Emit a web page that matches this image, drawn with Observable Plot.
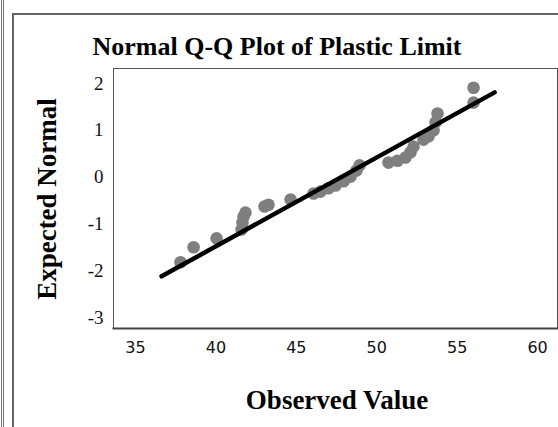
<!DOCTYPE html>
<html><head><meta charset="utf-8">
<script src="https://cdn.jsdelivr.net/npm/d3@7"></script>
<script src="https://cdn.jsdelivr.net/npm/@observablehq/plot@0.6"></script>
<style>
body{margin:0;background:#fff;}
#wrap{position:relative;width:558px;height:427px;overflow:hidden;background:#fff;}
.edge{position:absolute;left:1px;top:0;width:0;height:427px;border-left:3px double #777;}
.box{position:absolute;left:12px;top:13px;width:600px;height:500px;border-left:2px solid #666;border-top:2px solid #666;}
#chart{position:absolute;left:0;top:0;}
.txt{position:absolute;font-family:"Liberation Serif","Times New Roman",serif;font-weight:bold;color:#000;white-space:nowrap;}
.title{left:277px;top:47px;transform:translate(-50%,-50%);font-size:26px;}
.xlab{left:337px;top:400px;transform:translate(-50%,-50%);font-size:27px;}
.ylab{left:47px;top:199px;transform:translate(-50%,-50%) rotate(-90deg);font-size:27px;}
#chart svg text.ytl{font-family:"Liberation Serif","Times New Roman",serif !important;font-size:19px !important;}
#chart svg text.xtl{font-family:"DejaVu Sans","Liberation Sans",sans-serif !important;font-size:16px !important;}
</style></head><body>
<div id="wrap">
 <div class="edge"></div>
 <div class="box"></div>
 <div id="chart"></div>
 <div class="txt title">Normal Q-Q Plot of Plastic Limit</div>
 <div class="txt ylab">Expected Normal</div>
 <div class="txt xlab">Observed Value</div>
</div>
<script>
const observed = [37.80, 38.61, 40.04, 41.59, 41.65, 41.72, 41.84, 43.02, 43.27, 44.64,
  46.07, 46.50, 47.00, 47.44, 47.94, 48.37, 48.74, 48.93, 50.73, 51.29,
  51.79, 52.10, 52.29, 52.91, 53.22, 53.53, 53.66, 53.78, 56.02, 56.02];
const expected = [-1.82, -1.50, -1.31, -1.12, -0.97, -0.84, -0.76, -0.63, -0.59, -0.48,
  -0.35, -0.31, -0.24, -0.18, -0.09, 0.01, 0.14, 0.25, 0.31, 0.35,
  0.42, 0.53, 0.65, 0.80, 0.87, 1.00, 1.17, 1.36, 1.59, 1.91];
// Reference line endpoints
const lineObserved = [36.62, 57.33];
const lineExpected = [-2.12, 1.81];
// Axis ticks
const xTicks = [35, 40, 45, 50, 55, 60];
const yTicks = [2, 1, 0, -1, -2, -3];
const xDomain = [33.63, 61.24];
const yDomain = [-3.235, 2.32];

const points = observed.map((v, i) => ({obs: v, exp: expected[i]}));
const line = lineObserved.map((v, i) => ({obs: v, exp: lineExpected[i]}));

const chart = Plot.plot({
  width: 558,
  height: 427,
  marginLeft: 113,
  marginRight: 1,
  marginTop: 68,
  marginBottom: 99,
  style: {background: "transparent", overflow: "visible"},
  x: {domain: xDomain, axis: null},
  y: {domain: yDomain, axis: null},
  marks: [
    Plot.frame({fill: "white", stroke: "#555", strokeWidth: 1}),
    Plot.frame({anchor: "bottom", stroke: "#444", strokeWidth: 2}),
    Plot.text(xTicks, {x: d => d, frameAnchor: "bottom", dy: 24, text: d => String(d),
      fill: "#111", className: "xtl"}),
    Plot.text(yTicks, {y: d => d, frameAnchor: "left", dx: -10, textAnchor: "end",
      text: d => String(d), fill: "#111", className: "ytl"}),
    Plot.dot(points, {x: "obs", y: "exp", r: 6.3, fill: "#7f7f7f", stroke: "none"}),
    Plot.line(line, {x: "obs", y: "exp", stroke: "black", strokeWidth: 4.5})
  ]
});
chart.querySelectorAll(".xtl text").forEach(t => t.classList.add("xtl"));
chart.querySelectorAll(".ytl text").forEach(t => t.classList.add("ytl"));
document.getElementById("chart").appendChild(chart);
</script>
</body></html>
